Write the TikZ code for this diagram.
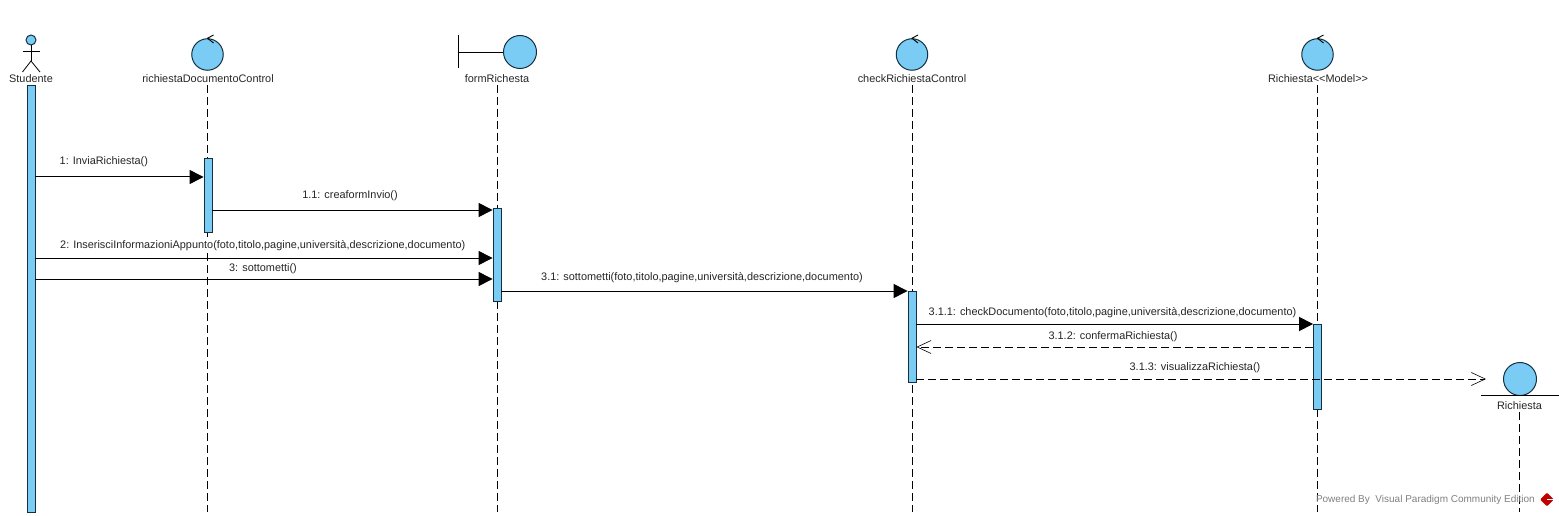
\documentclass[tikz,border=0pt]{standalone}
\usepackage{fontspec}
\setmainfont{Liberation Sans}
\usetikzlibrary{arrows.meta,shapes.geometric}
\definecolor{vpblue}{HTML}{7ACCF5}
\definecolor{vpline}{HTML}{12303F}
\tikzset{
	bar/.style={draw=vpline,fill=vpblue,line width=0.8pt,inner sep=0pt,minimum width=8pt},
	symbol/.style={circle,draw=vpline,fill=vpblue,line width=1pt,inner sep=0pt},
	lifeline/.style={black,line width=0.8pt,dash pattern=on 8pt off 4pt},
	call/.style={black,line width=1pt,-{Triangle[length=14pt,width=14pt]}},
	reply/.style={black,line width=0.8pt,dash pattern=on 8pt off 4pt,-{Straight Barb[length=14pt,width=13pt,line width=0.6pt]}},
	lbl/.style={font=\fontsize{10.9}{12}\selectfont,text=black!85,inner sep=0.5pt,yshift=-1pt},
	msglbl/.style={lbl,fill=white},
}
\begin{document}
\begin{tikzpicture}[x=1pt,y=-1pt]
	\useasboundingbox (0,0) rectangle (1559,516);
	% lifelines
	\foreach \name/\X/\top in {Doc/207/85,Form/497/85,Check/912/85,Model/1317/85,Entity/1519.5/412} {
		\coordinate (top\name) at (\X,\top);
		\coordinate (end\name) at (\X,512);
		\draw[lifeline] (top\name) -- (end\name);
	}
	% activation bars
	\foreach \name/\X/\Y/\H in {Studente/31/298.5/427,Doc/208/195/74,Form/497/254.5/93,Check/912/336.5/91,Model/1317.5/366.5/85} {
		\node[bar,minimum height=\H pt] (bar\name) at (\X,\Y) {};
	}
	% actor
	\node[symbol,minimum size=10pt] (headStudente) at (31,40) {};
	\coordinate (hipStudente) at (31,61);
	\coordinate (armL) at (22.5,51);
	\coordinate (armR) at (40,51);
	\coordinate (legL) at (22.5,72);
	\coordinate (legR) at (40,72);
	\draw[line width=0.8pt] (headStudente.south) -- (hipStudente);
	\draw[line width=0.8pt] (armL) -- (armR);
	\draw[line width=0.8pt] (legL) -- (hipStudente) -- (legR);
	\node[lbl] (lblStudente) at (31,78) {Studente};
	% controllers
	\foreach \name/\X/\txt/\lx in {Doc/207.5/richiestaDocumentoControl/208,Check/912/checkRichiestaControl/912,Model/1317.5/{Richiesta<{}<Model>{}>}/1318} {
		\node[symbol,minimum size=31.5pt] (sym\name) at (\X,54.5) {};
		\coordinate (tipA\name) at (\X+6,35);
		\coordinate (tipB\name) at (\X+6,43);
		\draw[line width=0.9pt] (tipA\name) -- (sym\name.north) -- (tipB\name);
		\node[lbl] (lbl\name) at (\lx,78) {\txt};
	}
	% boundary
	\node[symbol,minimum size=33pt] (symForm) at (520,52) {};
	\coordinate (wallTop) at (458,35);
	\coordinate (wallBot) at (458,68);
	\draw[line width=0.9pt] (wallTop) -- (wallBot);
	\draw[line width=0.9pt] (wallTop |- symForm) -- (symForm.west);
	\node[lbl] (lblForm) at (497,78) {formRichesta};
	% entity
	\node[symbol,minimum size=33pt] (symEntity) at (1520,379) {};
	\coordinate (floorL) at (1481,395.5);
	\coordinate (floorR) at (1559,395.5);
	\draw[line width=0.9pt] (floorL) -- (floorR);
	\node[lbl] (lblEntity) at (1519.5,405) {Richiesta};
	% messages
	\coordinate (mA) at (0,177);
	\coordinate (mB) at (0,210);
	\coordinate (mC) at (0,258);
	\coordinate (mD) at (0,279);
	\coordinate (mE) at (0,291);
	\coordinate (mF) at (0,324);
	\coordinate (mG) at (0,347);
	\coordinate (mH) at (1486,379);
	\draw[call] (barStudente.east |- mA) -- (barDoc.west |- mA);
	\draw[call] (barDoc.east |- mB) -- (barForm.west |- mB);
	\draw[call] (barStudente.east |- mC) -- (barForm.west |- mC);
	\draw[call] (barStudente.east |- mD) -- (barForm.west |- mD);
	\draw[call] (barForm.east |- mE) -- (barCheck.west |- mE);
	\draw[call] (barCheck.east |- mF) -- (barModel.west |- mF);
	\draw[reply] (barModel.west |- mG) -- (barCheck.east |- mG);
	\draw[reply] (barCheck.east |- mH) -- (mH);
	\node[msglbl,anchor=west] (msgA) at (59,160.5) {1: InviaRichiesta()};
	\node[msglbl] (msgB) at (350,195) {1.1: creaformInvio()};
	\node[msglbl,anchor=west] (msgC) at (59.5,245) {2: InserisciInformazioniAppunto(foto,titolo,pagine,università,descrizione,documento)};
	\node[msglbl] (msgD) at (263,267.5) {3: sottometti()};
	\node[msglbl] (msgE) at (702,277) {3.1: sottometti(foto,titolo,pagine,università,descrizione,documento)};
	\node[msglbl,anchor=west] (msgF) at (928,311.5) {3.1.1: checkDocumento(foto,titolo,pagine,università,descrizione,documento)};
	\node[msglbl] (msgG) at (1113,335.5) {3.1.2: confermaRichiesta()};
	\node[msglbl] (msgH) at (1195,366.5) {3.1.3: visualizzaRichiesta()};
	% watermark
	\node[lbl,font=\fontsize{10}{12}\selectfont,text=black!50,anchor=east] (powered) at (1535.5,499) {Powered By \ Visual Paradigm Community Edition};
	\node[diamond,fill=red!75!black,rounded corners=1pt,inner sep=0pt,minimum size=14pt] (logo) at (1547,499.5) {};
	\draw[white,line width=0.8pt] (logo.center) -- (logo.east);
\end{tikzpicture}
\end{document}
